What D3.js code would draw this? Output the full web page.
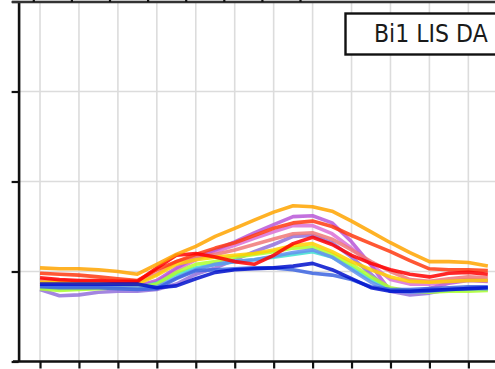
<!DOCTYPE html>
<html>
<head>
<meta charset="utf-8">
<script src="https://cdn.jsdelivr.net/npm/d3@7"></script>
<style>
  html, body { margin: 0; padding: 0; background: #fff; }
  svg { display: block; }
</style>
</head>
<body>
<svg id="chart" width="495" height="369"></svg>
<script>
// Hour of day, 0..23
const hours = d3.range(0, 24);

// Normalised diurnal cycles (1 = daily mean), one array per member
const orange     = [1.04,1.03,1.03,1.02,1.00,0.97,1.08,1.19,1.28,1.39,1.48,1.57,1.66,1.73,1.72,1.67,1.56,1.44,1.32,1.21,1.11,1.11,1.10,1.06];
const redOrange  = [0.98,0.97,0.96,0.94,0.92,0.90,1.02,1.11,1.19,1.26,1.32,1.40,1.48,1.54,1.56,1.50,1.40,1.31,1.22,1.12,1.03,1.02,1.02,1.01];
const red        = [0.93,0.91,0.90,0.90,0.89,0.89,1.04,1.18,1.20,1.16,1.11,1.08,1.18,1.31,1.38,1.30,1.18,1.09,1.02,0.97,0.94,0.98,0.99,0.97];
const salmon     = [0.91,0.90,0.89,0.89,0.88,0.88,0.97,1.11,1.16,1.19,1.24,1.30,1.36,1.42,1.43,1.36,1.24,1.11,1.00,0.91,0.89,0.92,0.94,0.93];
const orchid     = [0.88,0.86,0.86,0.86,0.86,0.84,0.90,1.04,1.16,1.24,1.33,1.43,1.52,1.61,1.62,1.54,1.33,1.07,0.78,0.77,0.81,0.87,0.90,0.89];
const violet     = [0.86,0.84,0.84,0.84,0.84,0.83,0.88,1.02,1.13,1.22,1.29,1.37,1.44,1.51,1.51,1.42,1.26,1.08,0.91,0.86,0.86,0.89,0.91,0.90];
const yellow     = [0.88,0.88,0.87,0.87,0.87,0.86,0.96,1.08,1.13,1.16,1.18,1.20,1.24,1.29,1.31,1.22,1.11,1.02,0.94,0.89,0.88,0.89,0.90,0.90];
const lime       = [0.81,0.79,0.80,0.81,0.82,0.82,0.86,0.99,1.08,1.11,1.16,1.19,1.22,1.26,1.27,1.19,1.08,0.94,0.82,0.78,0.77,0.78,0.78,0.79];
const cyan       = [0.82,0.81,0.81,0.82,0.82,0.82,0.87,0.97,1.04,1.08,1.11,1.13,1.16,1.19,1.22,1.16,1.04,0.91,0.80,0.78,0.78,0.79,0.80,0.80];
const lightBlue  = [0.84,0.83,0.83,0.83,0.83,0.82,0.83,0.93,1.02,1.08,1.11,1.13,1.17,1.21,1.24,1.16,1.02,0.88,0.78,0.77,0.78,0.80,0.81,0.81];
const midBlue    = [0.83,0.82,0.82,0.82,0.81,0.80,0.81,0.92,1.01,1.02,1.03,1.04,1.04,1.02,0.98,0.96,0.91,0.83,0.80,0.80,0.81,0.82,0.83,0.83];
const lavender   = [0.80,0.73,0.74,0.77,0.78,0.78,0.80,0.86,0.97,1.04,1.13,1.22,1.30,1.39,1.40,1.32,1.16,0.97,0.78,0.74,0.76,0.80,0.81,0.82];
const darkBlue   = [0.86,0.86,0.86,0.86,0.86,0.86,0.82,0.84,0.92,0.99,1.02,1.03,1.04,1.06,1.09,1.02,0.92,0.82,0.78,0.78,0.79,0.80,0.81,0.82];

// Axis ticks
const xTicks = d3.range(0, 26, 2);
const yTicks = [0, 1, 2, 3, 4];
const topTicks = d3.range(0, 16, 2);

const panelLabel = "Bi1 LIS DA";

// Members in drawing order (later ones on top)
const members = [
  { values: lavender,  color: "#9370DB" },
  { values: violet,    color: "#DA70D6" },
  { values: orchid,    color: "#B957D8" },
  { values: salmon,    color: "#F07878" },
  { values: cyan,      color: "#40E0D0" },
  { values: lime,      color: "#ADFF2F" },
  { values: yellow,    color: "#FFD000" },
  { values: lightBlue, color: "#6490EE" },
  { values: midBlue,   color: "#3C64E0" },
  { values: redOrange, color: "#FF3A10" },
  { values: red,       color: "#FF0000" },
  { values: darkBlue,  color: "#0010CC" },
  { values: orange,    color: "#FFA500" }
];

const svg = d3.select("#chart");
const W = 495, H = 369;

const x = d3.scaleLinear().domain([-1.1, 25]).range([18.6, 18.6 + 26.1 * 19.47]);
const y = d3.scaleLinear().domain([0, 4]).range([361.5, 1.5]);
// x scale of the panel directly above, whose axis shares the top edge
const xTop = d3.scaleLinear().domain([0, 14]).range([33.3, 300]);

// Grid
const grid = svg.append("g").attr("stroke", "#dcdcdc").attr("stroke-width", 1.6);
grid.selectAll("line.v").data(xTicks).join("line")
  .attr("x1", d => x(d)).attr("x2", d => x(d))
  .attr("y1", y(4)).attr("y2", y(0));
grid.selectAll("line.h").data(yTicks).join("line")
  .attr("x1", x(-1.1)).attr("x2", W)
  .attr("y1", d => y(d)).attr("y2", d => y(d));

// Member curves
const line = d3.line().x((d, i) => x(hours[i])).y(d => y(d));
svg.append("g").selectAll("path").data(members).join("path")
  .attr("d", d => line(d.values))
  .attr("fill", "none")
  .attr("stroke", d => d.color)
  .attr("stroke-width", 3.6)
  .attr("stroke-opacity", 0.85)
  .attr("stroke-linejoin", "round");

// Axes
const axisStyle = g => {
  g.selectAll(".domain").attr("stroke", "#111").attr("stroke-width", 2.6);
  g.selectAll(".tick line").attr("stroke", "#111").attr("stroke-width", 2.2);
  g.selectAll("text").remove();
};

svg.append("g")
  .attr("transform", `translate(0,${y(0)})`)
  .call(d3.axisBottom(x).tickValues(xTicks).tickSize(7).tickSizeOuter(0).tickFormat(""))
  .call(axisStyle)
  .call(g => g.select(".domain").attr("d", `M13,0H${W}`));

svg.append("g")
  .attr("transform", `translate(${x(-1.1)},0)`)
  .call(d3.axisLeft(y).tickValues(yTicks).tickSize(7).tickSizeOuter(0).tickFormat(""))
  .call(axisStyle);

// Shared top edge with the upper panel's ticks
svg.append("g")
  .attr("transform", "translate(0,2)")
  .call(d3.axisTop(xTop).tickValues(topTicks).tickSize(3).tickSizeOuter(0).tickFormat(""))
  .call(axisStyle)
  .call(g => g.select(".domain").attr("d", `M12,0H${W}`).attr("stroke", "#333"));

// Panel label box (runs on past the right edge)
const lab = svg.append("g");
lab.append("rect")
  .attr("x", 345.5).attr("y", 13.5).attr("width", 160).attr("height", 41)
  .attr("fill", "#fff").attr("stroke", "#111").attr("stroke-width", 2.4);
lab.append("text")
  .attr("transform", "translate(374,42) scale(0.9,1)")
  .attr("font-family", "DejaVu Sans, sans-serif")
  .attr("font-size", 24.5)
  .attr("fill", "#1a1a1a")
  .text(panelLabel);
</script>
</body>
</html>
